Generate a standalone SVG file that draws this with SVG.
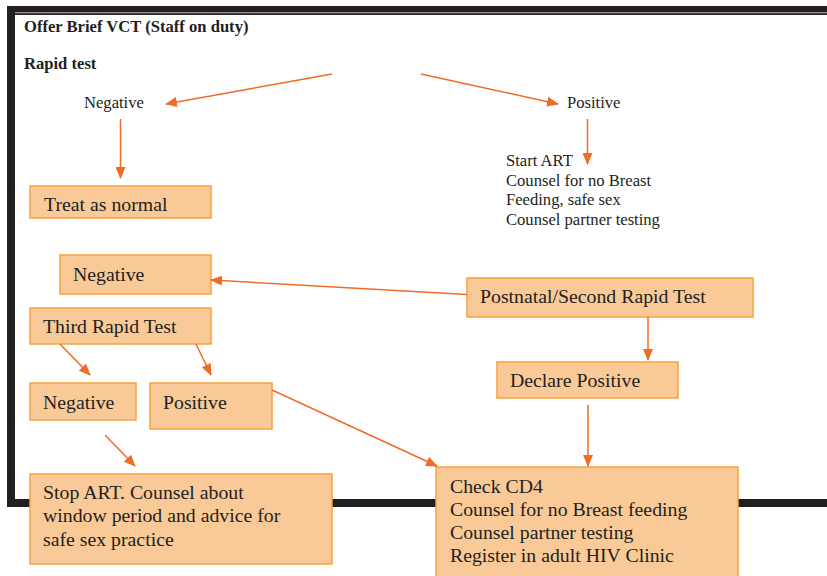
<svg xmlns="http://www.w3.org/2000/svg" width="827" height="576" viewBox="0 0 827 576">
  <style>
    .frame { fill: #231f20; }
    .box rect { fill: #f9ca98; stroke: #f7a13b; stroke-width: 1.5; }
    .box text, .lbl { font-family: "Liberation Serif", "Times New Roman", serif; fill: #231f20; }
    .box text { font-size: 19.8px; }
    .lbl { font-size: 16.6px; }
    .hdr { font-family: "Liberation Serif", "Times New Roman", serif; font-weight: bold; font-size: 16.6px; fill: #231f20; }
    .conn line { stroke: #f26b25; stroke-width: 1.5; fill: none; marker-end: url(#arr); }
  </style>
  <defs>
    <marker id="arr" markerUnits="userSpaceOnUse" markerWidth="12" markerHeight="10" refX="11" refY="5" orient="auto">
      <path d="M0,0 L12,5 L0,10 Z" fill="#f26b25"/>
    </marker>
  </defs>

  <rect width="827" height="576" fill="#ffffff"/>

  <!-- page frame -->
  <g id="frame">
    <rect class="frame" x="7" y="6" width="820" height="6.5"/>
    <rect class="frame" x="13" y="13.2" width="814" height="1.8"/>
    <rect class="frame" x="7" y="6" width="8" height="501"/>
    <rect class="frame" x="7" y="499" width="820" height="8"/>
  </g>

  <!-- headings and plain labels -->
  <g id="heading">
    <text class="hdr" x="24" y="32">Offer Brief VCT (Staff on duty)</text>
    <text class="hdr" x="24" y="69">Rapid test</text>
  </g>
  <g id="neg-label"><text class="lbl" x="84" y="108">Negative</text></g>
  <g id="pos-label"><text class="lbl" x="567" y="108">Positive</text></g>
  <g id="pos-actions">
    <text class="lbl" x="506" y="166">Start ART</text>
    <text class="lbl" x="506" y="185.5">Counsel for no Breast</text>
    <text class="lbl" x="506" y="205">Feeding, safe sex</text>
    <text class="lbl" x="506" y="224.5">Counsel partner testing</text>
  </g>

  <!-- boxes -->
  <g id="treat-normal" class="box">
    <rect x="30" y="186" width="181" height="32"/>
    <text x="44" y="211">Treat as normal</text>
  </g>
  <g id="negative-2" class="box">
    <rect x="60" y="255" width="151" height="39"/>
    <text x="73" y="281">Negative</text>
  </g>
  <g id="third-test" class="box">
    <rect x="30" y="308" width="181" height="36"/>
    <text x="43" y="333">Third Rapid Test</text>
  </g>
  <g id="negative-3" class="box">
    <rect x="30" y="383" width="106" height="37"/>
    <text x="43" y="409">Negative</text>
  </g>
  <g id="positive-3" class="box">
    <rect x="150" y="383" width="122" height="46"/>
    <text x="163" y="409">Positive</text>
  </g>
  <g id="stop-art" class="box">
    <rect x="30" y="474" width="302" height="90"/>
    <text x="43" y="499">Stop ART. Counsel about</text>
    <text x="43" y="522">window period and advice for</text>
    <text x="43" y="545.5">safe sex practice</text>
  </g>
  <g id="postnatal" class="box">
    <rect x="467" y="278" width="286" height="39"/>
    <text x="480" y="303">Postnatal/Second Rapid Test</text>
  </g>
  <g id="declare" class="box">
    <rect x="497" y="362" width="181" height="36"/>
    <text x="510" y="387">Declare Positive</text>
  </g>
  <g id="check-cd4" class="box">
    <rect x="436" y="467" width="302" height="120"/>
    <text x="450" y="492.5">Check CD4</text>
    <text x="450" y="515.5">Counsel for no Breast feeding</text>
    <text x="450" y="538.5">Counsel partner testing</text>
    <text x="450" y="561.5">Register in adult HIV Clinic</text>
  </g>

  <!-- connectors -->
  <g id="connectors" class="conn">
    <line x1="332" y1="74" x2="166" y2="104"/>
    <line x1="421" y1="74" x2="558" y2="104"/>
    <line x1="120.5" y1="119" x2="120.5" y2="178"/>
    <line x1="587.5" y1="119" x2="587.5" y2="164"/>
    <line x1="467" y1="294.5" x2="211" y2="280"/>
    <line x1="648" y1="317" x2="648" y2="360"/>
    <line x1="588" y1="405" x2="588" y2="466"/>
    <line x1="272" y1="390" x2="437" y2="466"/>
    <line x1="60" y1="344" x2="90" y2="375"/>
    <line x1="196" y1="344" x2="211" y2="375"/>
    <line x1="105" y1="435" x2="135" y2="466"/>
  </g>
</svg>
